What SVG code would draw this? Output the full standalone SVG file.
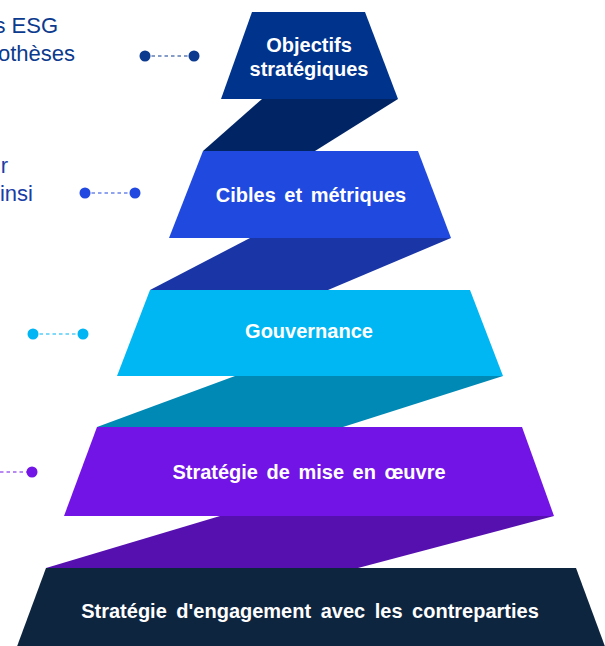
<svg xmlns="http://www.w3.org/2000/svg" width="605" height="646" viewBox="0 0 605 646">
  <style>
    .lbl { font-family: "Liberation Sans", Arial, sans-serif; font-weight: bold; font-size: 20px; fill: #ffffff; text-anchor: middle; word-spacing: 3px; }
    .side { font-family: "Liberation Sans", Arial, sans-serif; font-size: 22px; text-anchor: end; }
    .dash { stroke-width: 1.2; stroke-dasharray: 3.5 3; fill: none; }
  </style>
  <rect width="605" height="646" fill="#ffffff"/>

  <!-- ribbons joining one tier to the next -->
  <g id="connectors">
    <polygon points="262,99 398,99 315,151 203,151" fill="#002464"/>
    <polygon points="250,238 451,238 328,290 150,290" fill="#1a35a6"/>
    <polygon points="235,376 503,376 343,427 97,427" fill="#0089b5"/>
    <polygon points="220,516 554,516 358,568 46,568" fill="#5610b0"/>

    <!-- dotted leaders on the left -->
    <g fill="#0b3a8e" stroke="#0b3a8e">
      <line class="dash" x1="145" y1="56" x2="194" y2="56"/>
      <circle cx="145" cy="56" r="5.5" stroke="none"/>
      <circle cx="194" cy="56" r="5.5" stroke="none"/>
    </g>
    <g fill="#2148e0" stroke="#2148e0">
      <line class="dash" x1="85" y1="193" x2="135" y2="193"/>
      <circle cx="85" cy="193" r="5.5" stroke="none"/>
      <circle cx="135" cy="193" r="5.5" stroke="none"/>
    </g>
    <g fill="#00b5f3" stroke="#00b5f3">
      <line class="dash" x1="33" y1="334" x2="83" y2="334"/>
      <circle cx="33" cy="334" r="5.5" stroke="none"/>
      <circle cx="83" cy="334" r="5.5" stroke="none"/>
    </g>
    <g fill="#7215e6" stroke="#7215e6">
      <line class="dash" x1="0" y1="472" x2="32" y2="472"/>
      <circle cx="32" cy="472" r="5.5" stroke="none"/>
    </g>
  </g>

  <!-- side captions -->
  <g id="caption-1" fill="#0b3a8e">
    <text class="side" x="58" y="33">s ESG</text>
    <text class="side" x="75" y="61">othèses</text>
  </g>
  <g id="caption-2" fill="#1a3ea6">
    <text class="side" x="8" y="173">r</text>
    <text class="side" x="33" y="201">insi</text>
  </g>

  <!-- tiers, top to bottom -->
  <g id="tier-objectifs">
    <polygon points="252,12 365,12 398,99 221,99" fill="#00338c"/>
    <text class="lbl" x="309" y="52">Objectifs</text>
    <text class="lbl" x="309" y="76">stratégiques</text>
  </g>
  <g id="tier-cibles">
    <polygon points="203,151 418,151 451,238 169,238" fill="#2049e0"/>
    <text class="lbl" x="311" y="202">Cibles et métriques</text>
  </g>
  <g id="tier-gouvernance">
    <polygon points="150,290 470,290 503,376 117,376" fill="#00b7f3"/>
    <text class="lbl" x="309" y="338">Gouvernance</text>
  </g>
  <g id="tier-mise-en-oeuvre">
    <polygon points="97,427 522,427 554,516 64,516" fill="#7214e6"/>
    <text class="lbl" x="309" y="479">Stratégie de mise en œuvre</text>
  </g>
  <g id="tier-engagement">
    <polygon points="46,568 576,568 610,660 12,660" fill="#0e2540"/>
    <text class="lbl" x="310" y="618" style="word-spacing:4px">Stratégie d'engagement avec les contreparties</text>
  </g>
</svg>
